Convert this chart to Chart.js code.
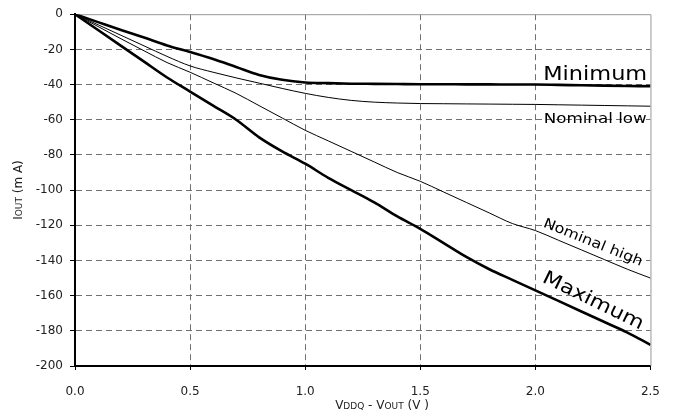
<!DOCTYPE html>
<html>
<head>
<meta charset="utf-8">
<script src="https://cdn.jsdelivr.net/npm/chart.js@4.4.0/dist/chart.umd.min.js"></script>
<style>
  html, body { margin: 0; padding: 0; background: #fff; }
  #wrap { width: 675px; height: 420px; position: relative; }
</style>
</head>
<body>
<div id="wrap"><canvas id="ivChart"></canvas></div>
<script>
// VDDQ - VOUT (V)
const voltage = [0.0, 0.1, 0.2, 0.3, 0.4, 0.5, 0.6, 0.7, 0.8, 0.9, 1.0, 1.1, 1.2,
                 1.3, 1.4, 1.5, 1.6, 1.7, 1.8, 1.9, 2.0, 2.1, 2.2, 2.3, 2.4, 2.5];
// IOUT (mA) per curve
const minimum = [0, -4.5, -9, -13.3, -17.8, -21.5, -25.5, -30, -34.5, -37.3, -38.8, -39.2, -39.5,
                 -39.6, -39.7, -39.8, -39.8, -39.9, -39.9, -40, -40, -40.2, -40.4, -40.6, -40.8, -41];
const nominalLow = [0, -6, -12, -18, -24, -29.4, -33, -36.2, -39.2, -42.2, -45, -47.3, -49,
                    -50, -50.5, -50.8, -50.9, -51, -51.1, -51.2, -51.3, -51.5, -51.7, -51.9, -52.1, -52.3];
const nominalHigh = [0, -7, -14, -20.8, -27.5, -33, -39, -45, -52, -59, -66, -72, -78,
                     -84, -90, -95, -101, -107, -113, -119, -123, -128.5, -134, -139.5, -145, -150];
const maximum = [0, -9, -18, -27, -36, -44, -52, -60, -70, -78, -85, -93, -100,
                 -107, -115, -122, -130, -138, -145, -151, -157, -163, -169, -175, -181, -188];

const seriesNames = ['Minimum', 'Nominal low', 'Nominal high', 'Maximum'];
const xRange = [0, 2.5];
const yRange = [-200, 0];

const FONT = '"DejaVu Sans", Verdana, sans-serif';

// curve labels, placed in data units
const curveLabels = [
  { text: seriesNames[0], x: 2.26, y: -37.5, size: 19, width: 104, angle: 0, base: 'alphabetic' },
  { text: seriesNames[1], x: 2.26, y: -61.9, size: 14, width: 103, angle: 0, base: 'alphabetic' },
  { text: seriesNames[2], x: 2.25, y: -130.0, size: 14, width: 106, angle: 22, base: 'middle' },
  { text: seriesNames[3], x: 2.25, y: -163.2, size: 19, width: 110, angle: 26, base: 'middle' }
];

const toPoints = (ys) => voltage.map((v, i) => ({ x: v, y: ys[i] }));

function drawParts(ctx, parts, cx, cy, rot) {
  ctx.save();
  ctx.translate(cx, cy);
  if (rot) ctx.rotate(rot);
  let total = 0;
  parts.forEach(p => { ctx.font = p[1] + 'px ' + FONT; total += ctx.measureText(p[0]).width; });
  let x = -total / 2;
  ctx.fillStyle = '#222';
  ctx.textBaseline = 'alphabetic';
  ctx.textAlign = 'left';
  parts.forEach(p => {
    ctx.font = p[1] + 'px ' + FONT;
    ctx.fillText(p[0], x, 4);
    x += ctx.measureText(p[0]).width;
  });
  ctx.restore();
}

const decorations = {
  id: 'decorations',
  beforeDatasetsDraw(chart) {
    const { ctx, chartArea: a } = chart;
    ctx.save();
    ctx.strokeStyle = '#999';
    ctx.lineWidth = 1;
    ctx.beginPath();
    ctx.moveTo(a.left, a.top + 0.5);
    ctx.lineTo(a.right + 0.5, a.top + 0.5);
    ctx.lineTo(a.right + 0.5, a.bottom);
    ctx.stroke();
    ctx.restore();
  },
  afterDraw(chart) {
    const { ctx, scales } = chart;
    curveLabels.forEach(l => {
      const px = scales.x.getPixelForValue(l.x);
      const py = scales.y.getPixelForValue(l.y);
      ctx.save();
      ctx.translate(px, py);
      ctx.rotate(l.angle * Math.PI / 180);
      ctx.font = l.size + 'px ' + FONT;
      const w = ctx.measureText(l.text).width;
      ctx.scale(l.width / w, 1);
      ctx.fillStyle = '#000';
      ctx.textAlign = 'center';
      ctx.textBaseline = l.base;
      ctx.fillText(l.text, 0, 0);
      ctx.restore();
    });
    drawParts(ctx, [['I', 12], ['OUT', 9], [' (m A)', 12]], 18, 190, -Math.PI / 2);
    drawParts(ctx, [['V', 12], ['DDQ', 9], [' - ', 12], ['V', 12], ['OUT', 9], [' (V )', 12]], 382, 405, 0);
  }
};

const edgeless = (lo, hi) => (c) =>
  (c.tick && (c.tick.value === lo || c.tick.value === hi)) ? 'rgba(0,0,0,0)' : '#707070';

const ctx = document.getElementById('ivChart').getContext('2d');
new Chart(ctx, {
  type: 'line',
  data: {
    datasets: [
      { label: seriesNames[0], data: toPoints(minimum), borderWidth: 2.6 },
      { label: seriesNames[1], data: toPoints(nominalLow), borderWidth: 1 },
      { label: seriesNames[2], data: toPoints(nominalHigh), borderWidth: 1 },
      { label: seriesNames[3], data: toPoints(maximum), borderWidth: 2.6 }
    ].map(d => Object.assign(d, {
      borderColor: '#000',
      pointRadius: 0,
      fill: false,
      cubicInterpolationMode: 'monotone'
    }))
  },
  options: {
    responsive: true,
    maintainAspectRatio: false,
    animation: false,
    layout: { padding: { left: 0, right: 14, top: 14, bottom: 0 } },
    plugins: { legend: { display: false }, tooltip: { enabled: false } },
    scales: {
      x: {
        type: 'linear',
        min: xRange[0],
        max: xRange[1],
        afterFit: (s) => { s.height = 54; },
        ticks: {
          stepSize: 0.5,
          color: '#222',
          padding: 15,
          maxRotation: 0,
          font: { family: FONT, size: 12 },
          callback: (v) => v.toFixed(1)
        },
        grid: {
          color: edgeless(xRange[0], xRange[1]),
          lineWidth: 1,
          tickLength: 4,
          tickColor: '#000',
          tickBorderDash: []
        },
        border: { display: true, color: '#000', width: 2, dash: [6, 4] }
      },
      y: {
        min: yRange[0],
        max: yRange[1],
        afterFit: (s) => { s.width = 75; },
        ticks: {
          stepSize: 20,
          color: '#222',
          padding: 7,
          font: { family: FONT, size: 12 }
        },
        grid: {
          color: edgeless(yRange[0], yRange[1]),
          lineWidth: 1,
          tickLength: 5,
          tickColor: '#000',
          tickBorderDash: []
        },
        border: { display: true, color: '#000', width: 2, dash: [6, 4] }
      }
    }
  },
  plugins: [decorations]
});
</script>
</body>
</html>
